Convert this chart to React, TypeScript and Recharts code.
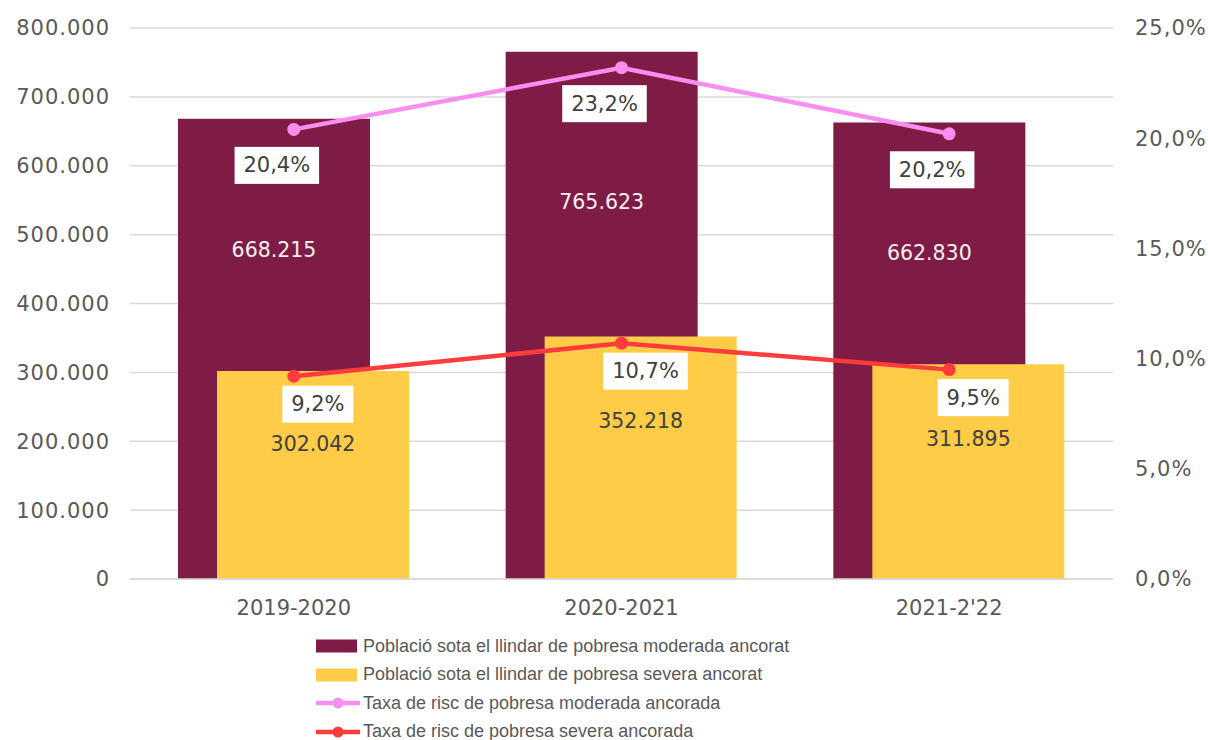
import { ComposedChart, Bar, Line, XAxis, YAxis, CartesianGrid, Legend, LabelList } from "recharts";

const categories = ["2019-2020", "2020-2021", "2021-2'22"];
const moderatePopulation = [668215, 765623, 662830];
const severePopulation = [302042, 352218, 311895];
const moderateRate = [20.4, 23.2, 20.2];
const severeRate = [9.2, 10.7, 9.5];
const leftTicks = [0, 100000, 200000, 300000, 400000, 500000, 600000, 700000, 800000];
const rightTicks = [0, 5, 10, 15, 20, 25];

const seriesNames = [
  "Població sota el llindar de pobresa moderada ancorat",
  "Població sota el llindar de pobresa severa ancorat",
  "Taxa de risc de pobresa moderada ancorada",
  "Taxa de risc de pobresa severa ancorada",
];

const MAROON = "#7f1c45";
const YELLOW = "#ffcc47";
const PINK = "#f78ef0";
const RED = "#ff3c3c";
const TEXT = "#595959";
const FONT = "'DejaVu Sans', sans-serif";

const data = categories.map((c, i) => ({
  name: c,
  moderatePop: moderatePopulation[i],
  severePop: severePopulation[i],
  moderateRate: moderateRate[i],
  severeRate: severeRate[i],
}));

const fmtThousands = (v: number) => String(v).replace(/\B(?=(\d{3})+(?!\d))/g, ".");
const fmtPct = (v: number) => v.toFixed(1).replace(".", ",") + "%";

// bar value label, placed a fraction of the way down the bar
const barLabel = (frac: number, color: string) => (props: any) => {
  const { x, y, width, height, value } = props;
  return (
    <text
      x={x + width / 2}
      y={y + height * frac}
      textAnchor="middle"
      dominantBaseline="central"
      fill={color}
      fontSize={20.5}
      fontFamily={FONT}
    >
      {fmtThousands(value)}
    </text>
  );
};

// white boxed percent label under each line point
const rateLabel = (dx: number, dy: number) => (props: any) => {
  const { x, y, value } = props;
  const txt = fmtPct(value);
  const w = txt.length * 13.5 + 17;
  const h = 37;
  const cx = x + dx;
  const cy = y + dy;
  return (
    <g>
      <rect x={cx - w / 2} y={cy - h / 2} width={w} height={h} fill="#fff" />
      <text x={cx} y={cy} textAnchor="middle" dominantBaseline="central" fill="#404040" fontSize={21} fontFamily={FONT}>
        {txt}
      </text>
    </g>
  );
};

const legendItems = [
  { name: seriesNames[0], color: MAROON, kind: "bar" },
  { name: seriesNames[1], color: YELLOW, kind: "bar" },
  { name: seriesNames[2], color: PINK, kind: "line" },
  { name: seriesNames[3], color: RED, kind: "line" },
];

const renderLegend = () => (
  <div style={{ fontFamily: "'Liberation Sans', Arial, sans-serif", fontSize: 18, color: TEXT }}>
    {legendItems.map((it) => (
      <div key={it.name} style={{ display: "flex", alignItems: "center", height: 28.5 }}>
        <svg width={46} height={16} style={{ marginRight: 1 }}>
          {it.kind === "bar" ? (
            <rect x={0} y={1.5} width={41} height={13} fill={it.color} />
          ) : (
            <g>
              <line x1={0} y1={8} x2={44} y2={8} stroke={it.color} strokeWidth={4.5} />
              <circle cx={22} cy={8} r={5.5} fill={it.color} />
            </g>
          )}
        </svg>
        <span>{it.name}</span>
      </div>
    ))}
  </div>
);

export default function App() {
  return (
    <div style={{ position: "absolute", left: 0, top: 0, background: "#fff" }}>
      <ComposedChart
        width={1208}
        height={740}
        data={data}
        margin={{ top: 28, right: 0, left: 0, bottom: 131 }}
        barSize={192}
        barGap={-153}
      >
        <CartesianGrid yAxisId="left" vertical={false} stroke="#d9d9d9" strokeWidth={1.5} />
        <XAxis
          dataKey="name"
          height={30}
          axisLine={{ stroke: "#d9d9d9", strokeWidth: 1.5 }}
          tickLine={false}
          tickSize={0}
          tickMargin={21}
          tick={{ fontSize: 21, fill: TEXT, fontFamily: FONT }}
        />
        <YAxis
          yAxisId="left"
          width={130}
          domain={[0, 800000]}
          ticks={leftTicks}
          tickFormatter={fmtThousands}
          axisLine={false}
          tickLine={false}
          tickSize={0}
          tickMargin={20}
          tick={{ fontSize: 21, fill: TEXT, fontFamily: FONT, letterSpacing: 1 }}
        />
        <YAxis
          yAxisId="right"
          orientation="right"
          width={95}
          domain={[0, 25]}
          ticks={rightTicks}
          tickFormatter={(v: number) => fmtPct(v)}
          axisLine={false}
          tickLine={false}
          tickSize={0}
          tickMargin={22}
          tick={{ fontSize: 21, fill: TEXT, fontFamily: FONT, letterSpacing: 1, textAnchor: "start" }}
        />
        <Legend
          layout="horizontal"
          verticalAlign="middle"
          align="center"
          content={renderLegend}
          wrapperStyle={{ position: "absolute", left: 316, top: 632, width: "auto" }}
        />
        <Bar yAxisId="left" dataKey="moderatePop" name={seriesNames[0]} fill={MAROON} isAnimationActive={false}>
          <LabelList dataKey="moderatePop" content={barLabel(0.285, "#f2f2f2")} />
        </Bar>
        <Bar yAxisId="left" dataKey="severePop" name={seriesNames[1]} fill={YELLOW} isAnimationActive={false}>
          <LabelList dataKey="severePop" content={barLabel(0.35, "#404040")} />
        </Bar>
        <Line
          yAxisId="right"
          type="linear"
          dataKey="moderateRate"
          name={seriesNames[2]}
          stroke={PINK}
          strokeWidth={4.5}
          dot={{ r: 6.5, fill: PINK, stroke: PINK, strokeWidth: 0 }}
          isAnimationActive={false}
        >
          <LabelList dataKey="moderateRate" content={rateLabel(-17, 36)} />
        </Line>
        <Line
          yAxisId="right"
          type="linear"
          dataKey="severeRate"
          name={seriesNames[3]}
          stroke={RED}
          strokeWidth={4.5}
          dot={{ r: 6.5, fill: RED, stroke: RED, strokeWidth: 0 }}
          isAnimationActive={false}
        >
          <LabelList dataKey="severeRate" content={rateLabel(24, 28)} />
        </Line>
      </ComposedChart>
    </div>
  );
}
